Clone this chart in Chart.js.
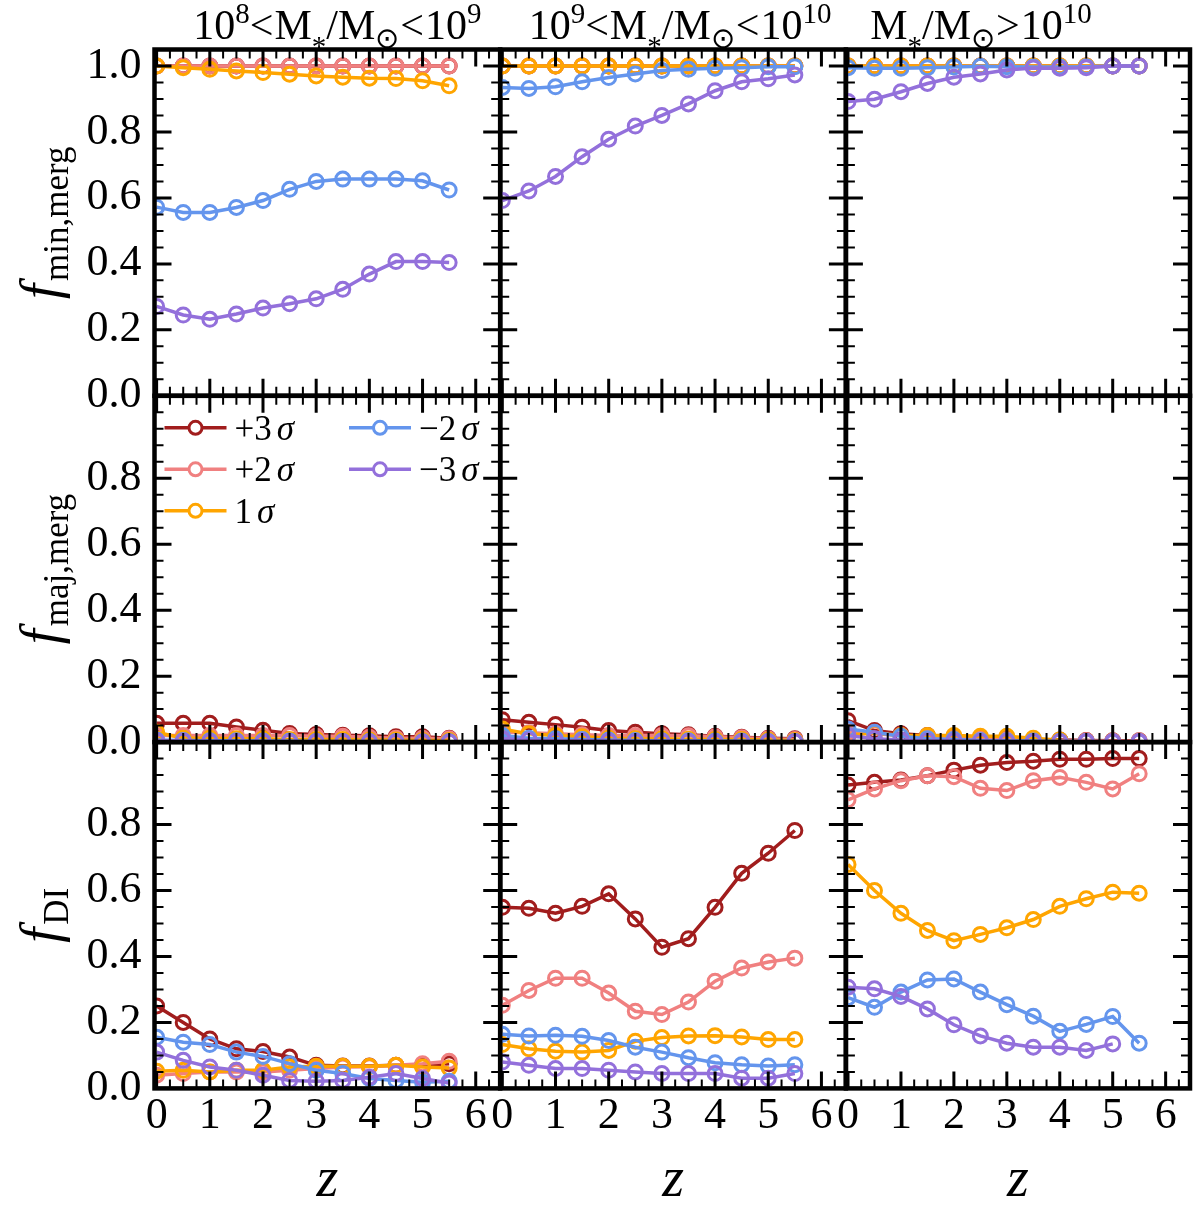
<!DOCTYPE html>
<html>
<head>
<meta charset="utf-8">
<script src="https://cdn.jsdelivr.net/npm/chart.js@4.4.0/dist/chart.umd.min.js"></script>
<style>
  html, body { margin: 0; padding: 0; background: #fff; }
  #wrap { position: relative; width: 1200px; height: 1210px; overflow: hidden; background: #fff; }
  #wrap canvas { position: absolute; left: 0; top: 0; }
</style>
</head>
<body>
<div id="wrap"></div>
<script>
// redshift grid
const z = [0, 0.5, 1, 1.5, 2, 2.5, 3, 3.5, 4, 4.5, 5, 5.5];

// series labels / colours
const sigmaLevels = ['+3', '+2', '1', '\u22122', '\u22123'];
const colors = ['#a11d1d', '#f08080', '#ffa500', '#6495ed', '#9370db'];

// column titles (stellar mass bins)
const massLow = ['8', '9', null];
const massHigh = ['9', '10', '10'];

// f_min,merg
const minA_p3 = [1, 1, 1, 1, 1, 1, 1, 1, 1, 1, 1, 1];
const minA_p2 = [1, 1, 1, 1, 1, 1, 1, 1, 1, 1, 1, 1];
const minA_s1 = [1.0, 0.995, 0.99, 0.985, 0.98, 0.975, 0.97, 0.966, 0.963, 0.962, 0.955, 0.94];
const minA_m2 = [0.572, 0.556, 0.556, 0.571, 0.592, 0.626, 0.65, 0.657, 0.657, 0.657, 0.652, 0.624];
const minA_m3 = [0.271, 0.245, 0.232, 0.248, 0.266, 0.279, 0.294, 0.323, 0.369, 0.407, 0.407, 0.404];

const minB_p3 = [1, 1, 1, 1, 1, 1, 1, 1, 1, 1, 1, 1];
const minB_p2 = [1, 1, 1, 1, 1, 1, 1, 1, 1, 1, 1, 1];
const minB_s1 = [1, 1, 1, 1, 1, 1, 1, 1, 1, 1, 1, 1];
const minB_m2 = [0.935, 0.932, 0.937, 0.952, 0.965, 0.976, 0.986, 0.99, 0.993, 0.995, 0.998, 0.998];
const minB_m3 = [0.592, 0.621, 0.665, 0.725, 0.778, 0.818, 0.85, 0.885, 0.925, 0.952, 0.961, 0.973];

const minC_p3 = [1, 1, 1, 1, 1, 1, 1, 1, 1, 1, 1, 1];
const minC_p2 = [1, 1, 1, 1, 1, 1, 1, 1, 1, 1, 1, 1];
const minC_s1 = [1, 1, 1, 1, 1, 1, 1, 1, 1, 1, 1, 1];
const minC_m2 = [0.995, 0.993, 0.993, 0.995, 0.997, 0.999, 0.998, 0.997, 0.997, 0.998, 1.0, 1.0];
const minC_m3 = [0.892, 0.899, 0.922, 0.947, 0.966, 0.976, 0.988, 0.994, 0.993, 0.995, 1.0, 1.0];

// f_maj,merg
const majA_p3 = [0.057, 0.057, 0.057, 0.046, 0.036, 0.026, 0.023, 0.021, 0.019, 0.016, 0.016, 0.012];
const majA_p2 = [0.02, 0.02, 0.02, 0.02, 0.02, 0.02, 0.018, 0.018, 0.015, 0.012, 0.012, 0.01];
const majA_s1 = [0.03, 0.012, 0.012, 0.01, 0.01, 0.008, 0.008, 0.008, 0.006, 0.006, 0.005, 0.005];
const majA_m2 = [0.006, 0.005, 0.004, 0.004, 0.003, 0.003, 0.002, 0.002, 0.002, 0.002, 0.001, 0.001];
const majA_m3 = [0.004, 0.003, 0.002, 0.002, 0.001, 0.001, 0.001, 0.001, 0.001, 0, 0, 0];

const majB_p3 = [0.068, 0.06, 0.053, 0.045, 0.035, 0.03, 0.025, 0.022, 0.018, 0.015, 0.012, 0.01];
const majB_p2 = [0.03, 0.028, 0.025, 0.022, 0.02, 0.02, 0.02, 0.019, 0.016, 0.013, 0.01, 0.008];
const majB_s1 = [0.04, 0.025, 0.02, 0.016, 0.012, 0.01, 0.01, 0.009, 0.008, 0.008, 0.006, 0.005];
const majB_m2 = [0.02, 0.012, 0.01, 0.008, 0.006, 0.005, 0.004, 0.004, 0.003, 0.003, 0.002, 0.002];
const majB_m3 = [0.01, 0.006, 0.004, 0.004, 0.003, 0.002, 0.002, 0.002, 0.001, 0.001, 0.001, 0.001];

const majC_p3 = [0.065, 0.035, 0.025, 0.02, 0.015, 0.012, 0.01, 0.008, 0.006, 0.005, 0.004, 0.004];
const majC_p2 = [0.03, 0.025, 0.02, 0.016, 0.012, 0.01, 0.008, 0.006, 0.005, 0.004, 0.003, 0.003];
const majC_s1 = [0.02, 0.028, 0.02, 0.02, 0.02, 0.018, 0.018, 0.012, 0.006];
const majC_m2 = [0.04, 0.03, 0.018, 0.01, 0.008, 0.005, 0.004, 0.003, 0.002, 0.002, 0.001, 0.001];
const majC_m3 = [0.02, 0.01, 0.006, 0.004, 0.003, 0.002, 0.002, 0.001, 0.001, 0.001, 0.001, 0.001];

// f_DI
const diA_p3 = [0.25, 0.2, 0.15, 0.12, 0.112, 0.095, 0.07, 0.068, 0.068, 0.07, 0.07, 0.075];
const diA_p2 = [0.04, 0.045, 0.05, 0.05, 0.05, 0.055, 0.06, 0.065, 0.066, 0.07, 0.075, 0.082];
const diA_s1 = [0.052, 0.055, 0.05, 0.055, 0.055, 0.065, 0.067, 0.067, 0.067, 0.07, 0.065, 0.062];
const diA_m2 = [0.155, 0.14, 0.133, 0.11, 0.097, 0.075, 0.055, 0.045, 0.03, 0.024, 0.019, 0.022];
const diA_m3 = [0.11, 0.085, 0.065, 0.055, 0.04, 0.024, 0.022, 0.024, 0.034, 0.045, 0.03, 0.016];

const diB_p3 = [0.549, 0.546, 0.531, 0.552, 0.59, 0.514, 0.428, 0.454, 0.549, 0.652, 0.713, 0.782];
const diB_p2 = [0.252, 0.297, 0.334, 0.334, 0.289, 0.234, 0.224, 0.262, 0.325, 0.365, 0.383, 0.395];
const diB_s1 = [0.133, 0.12, 0.113, 0.11, 0.115, 0.143, 0.154, 0.159, 0.16, 0.156, 0.148, 0.148];
const diB_m2 = [0.164, 0.159, 0.161, 0.158, 0.145, 0.125, 0.11, 0.093, 0.078, 0.072, 0.068, 0.072];
const diB_m3 = [0.08, 0.07, 0.06, 0.06, 0.055, 0.05, 0.045, 0.045, 0.045, 0.031, 0.031, 0.045];

const diC_p3 = [0.92, 0.928, 0.935, 0.948, 0.965, 0.98, 0.988, 0.992, 0.998, 0.998, 1.0, 1.0];
const diC_p2 = [0.875, 0.908, 0.933, 0.948, 0.945, 0.91, 0.903, 0.933, 0.943, 0.928, 0.908, 0.954];
const diC_s1 = [0.679, 0.6, 0.531, 0.479, 0.448, 0.467, 0.487, 0.512, 0.552, 0.575, 0.595, 0.592];
const diC_m2 = [0.275, 0.246, 0.292, 0.329, 0.332, 0.292, 0.254, 0.219, 0.173, 0.194, 0.218, 0.137];
const diC_m3 = [0.307, 0.302, 0.279, 0.241, 0.193, 0.159, 0.137, 0.125, 0.125, 0.115, 0.135];

const rowLabels = [['f', 'min,merg'], ['f', 'maj,merg'], ['f', 'DI']];
const xTitle = 'z';

// axis ranges and tick grids
const X_MIN = -0.04, X_MAX = 6.46;
const Y_MIN = 0, Y_MAX = 1.05;
const xTickVals = [];
for (let i = 0; i <= 25; i++) xTickVals.push(i * 0.25);
const yTickVals = [];
for (let i = 0; i <= 20; i++) yTickVals.push(Math.round(i * 5) / 100);

const panels = [
  [[minA_p3, minA_p2, minA_s1, minA_m2, minA_m3],
   [minB_p3, minB_p2, minB_s1, minB_m2, minB_m3],
   [minC_p3, minC_p2, minC_s1, minC_m2, minC_m3]],
  [[majA_p3, majA_p2, majA_s1, majA_m2, majA_m3],
   [majB_p3, majB_p2, majB_s1, majB_m2, majB_m3],
   [majC_p3, majC_p2, majC_s1, majC_m2, majC_m3]],
  [[diA_p3, diA_p2, diA_s1, diA_m2, diA_m3],
   [diB_p3, diB_p2, diB_s1, diB_m2, diB_m3],
   [diC_p3, diC_p2, diC_s1, diC_m2, diC_m3]]
];

// page layout
const PL = 154.5, PT = 49.5, PW = 345.7, PH = 346.3;
const SERIF = '"Liberation Serif", "Times New Roman", serif';
const rm = s => `${s}px ${SERIF}`;
const it = s => `italic ${s}px ${SERIF}`;

const near = (v, step) => Math.abs(v / step - Math.round(v / step)) < 1e-6;

function richWidth(ctx, parts) {
  let w = 0;
  parts.forEach(p => { ctx.font = p.font; w += ctx.measureText(p.t).width + (p.gap || 0); });
  return w;
}
function drawRich(ctx, parts, x, y) {
  let cx = x;
  parts.forEach(p => {
    ctx.font = p.font;
    ctx.fillText(p.t, cx, y + (p.dy || 0));
    cx += ctx.measureText(p.t).width + (p.gap || 0);
  });
}

function titleParts(c) {
  const B = 42, S = 29;
  const parts = [];
  if (massLow[c]) {
    parts.push({t: '10', font: rm(B)}, {t: massLow[c], font: rm(S), dy: -16}, {t: '<', font: rm(B), gap: 1});
  }
  parts.push({t: 'M', font: rm(B)}, {t: '*', font: rm(S), dy: 17},
             {t: '/', font: rm(B)}, {t: 'M', font: rm(B)}, {t: '\u2299', font: rm(S), dy: 9, gap: 1});
  parts.push({t: massLow[c] ? '<' : '>', font: rm(B), gap: 1},
             {t: '10', font: rm(B)}, {t: massHigh[c], font: rm(S), dy: -16});
  return parts;
}
const titleShift = [10, 7, -37];

function panelPlugin(r, c) {
  return {
    id: 'panel' + r + c,
    afterDatasetsDraw(chart) {
      const {ctx, chartArea: a, scales: {x, y}} = chart;
      ctx.save();
      ctx.strokeStyle = '#000';
      ctx.lineCap = 'butt';
      // inward ticks on all four sides
      x.ticks.forEach(t => {
        const px = x.getPixelForValue(t.value);
        const major = near(t.value, 1);
        const len = major ? 17 : 9;
        ctx.lineWidth = major ? 3 : 2;
        ctx.beginPath();
        ctx.moveTo(px, a.bottom); ctx.lineTo(px, a.bottom - len);
        ctx.moveTo(px, a.top); ctx.lineTo(px, a.top + len);
        ctx.stroke();
      });
      y.ticks.forEach(t => {
        const py = y.getPixelForValue(t.value);
        const major = near(t.value, 0.2) && (r === 0 || t.value < 0.9);
        const len = major ? 17 : 9;
        ctx.lineWidth = major ? 3 : 2;
        ctx.beginPath();
        ctx.moveTo(a.left, py); ctx.lineTo(a.left + len, py);
        ctx.moveTo(a.right, py); ctx.lineTo(a.right - len, py);
        ctx.stroke();
      });
      ctx.lineWidth = 4.5;
      ctx.strokeRect(a.left, a.top, a.right - a.left, a.bottom - a.top);
      ctx.restore();
    },
    afterDraw(chart) {
      const {ctx, chartArea: a} = chart;
      ctx.save();
      ctx.fillStyle = '#000';
      ctx.textBaseline = 'alphabetic';
      const cx = (a.left + a.right) / 2;
      if (r === 0) {
        const parts = titleParts(c);
        const w = richWidth(ctx, parts);
        drawRich(ctx, parts, cx + titleShift[c] - w / 2, 39);
      }
      if (r === 2) {
        ctx.font = it(56);
        ctx.textAlign = 'center';
        ctx.fillText(xTitle, cx, 1196);
        ctx.textAlign = 'left';
      }
      if (c === 0) {
        const [main, sub] = rowLabels[r];
        const parts = [{t: main, font: it(54), gap: 3}, {t: sub, font: rm(35), dy: 10}];
        const w = richWidth(ctx, parts);
        const cy = (a.top + a.bottom) / 2;
        ctx.translate(58, cy);
        ctx.rotate(-Math.PI / 2);
        drawRich(ctx, parts, -w / 2, 0);
        ctx.setTransform(1, 0, 0, 1, 0, 0);
      }
      if (r === 1 && c === 0) {
        // legend, two columns
        const slots = [[0, 0], [0, 1], [0, 2], [1, 0], [1, 1]];
        chart.data.datasets.forEach((ds, i) => {
          const [col, row] = slots[i];
          const x0 = a.left + (col === 0 ? 10 : 194.5);
          const yy = a.top + 32 + row * 41.5;
          ctx.strokeStyle = ds.borderColor;
          ctx.lineWidth = 3.5;
          ctx.beginPath(); ctx.moveTo(x0, yy); ctx.lineTo(x0 + 62, yy); ctx.stroke();
          ctx.lineWidth = 3;
          ctx.beginPath(); ctx.arc(x0 + 31, yy, 6.5, 0, Math.PI * 2); ctx.fillStyle = '#fff'; ctx.fill(); ctx.stroke();
          ctx.fillStyle = '#000';
          drawRich(ctx, [{t: sigmaLevels[i], font: rm(35), gap: 5}, {t: '\u03c3', font: it(35)}], x0 + 70, yy + 12);
        });
      }
      ctx.restore();
    }
  };
}

const wrap = document.getElementById('wrap');
for (let r = 0; r < 3; r++) {
  for (let c = 0; c < 3; c++) {
    const cv = document.createElement('canvas');
    cv.width = 1200; cv.height = 1210;
    wrap.appendChild(cv);
    const L = PL + c * PW, T = PT + r * PH;
    const yW = c === 0 ? L : 0;                 // room for y tick labels
    const xH = r === 2 ? 1210 - T - PH : 0;     // room for x tick labels
    const datasets = panels[r][c].map((vals, i) => ({
      label: sigmaLevels[i] + '\u03c3',
      data: vals.map((v, k) => ({x: z[k], y: v})),
      borderColor: colors[i],
      borderWidth: 3.5,
      pointRadius: 7,
      pointBorderWidth: 3,
      pointBorderColor: colors[i],
      pointBackgroundColor: 'rgba(0,0,0,0)',
      backgroundColor: colors[i],
      fill: false,
      tension: 0,
      clip: 0,
      order: 5 - i
    }));
    new Chart(cv.getContext('2d'), {
      type: 'line',
      data: {datasets},
      options: {
        responsive: false,
        animation: false,
        devicePixelRatio: 1,
        events: [],
        layout: {padding: {left: L - yW, top: T, right: 1200 - L - PW, bottom: 1210 - T - PH - xH}},
        plugins: {legend: {display: false}, tooltip: {enabled: false}},
        scales: {
          x: {
            type: 'linear', min: X_MIN, max: X_MAX,
            afterBuildTicks: s => { s.ticks = xTickVals.map(v => ({value: v})); },
            afterFit: s => { s.height = xH; },
            grid: {display: false, drawTicks: false}, border: {display: false},
            ticks: {
              display: r === 2, autoSkip: false, maxRotation: 0, minRotation: 0, padding: 2,
              color: '#000', font: {family: SERIF, size: 44},
              callback: v => near(v, 1) ? String(Math.round(v)) : ''
            }
          },
          y: {
            type: 'linear', min: Y_MIN, max: Y_MAX,
            afterBuildTicks: s => { s.ticks = yTickVals.map(v => ({value: v})); },
            afterFit: s => { s.width = yW; },
            grid: {display: false, drawTicks: false}, border: {display: false},
            ticks: {
              display: c === 0, autoSkip: false, padding: 13,
              color: '#000', font: {family: SERIF, size: 44},
              callback: v => (near(v, 0.2) && (r === 0 || v < 0.9)) ? v.toFixed(1) : ''
            }
          }
        }
      },
      plugins: [panelPlugin(r, c)]
    });
  }
}
</script>
</body>
</html>
